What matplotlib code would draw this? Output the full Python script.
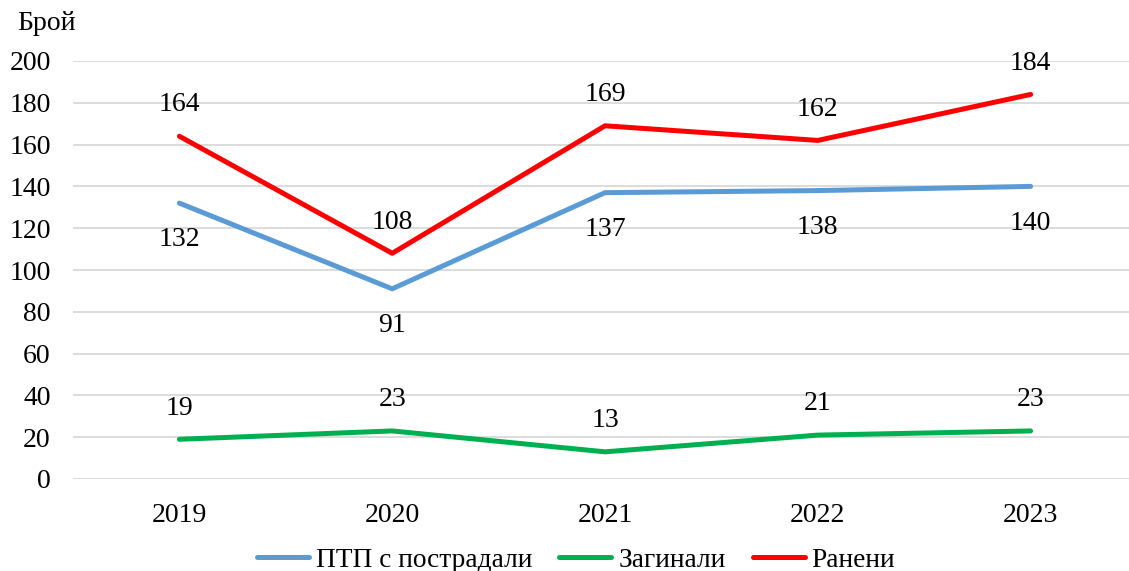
import matplotlib.pyplot as plt
import numpy as np

plt.rcParams['font.family'] = ['Liberation Serif', 'DejaVu Serif']

years = ['2019', '2020', '2021', '2022', '2023']
ptp = [132, 91, 137, 138, 140]
killed = [19, 23, 13, 21, 23]
injured = [164, 108, 169, 162, 184]

series = [
    ('ПТП с пострадали', ptp, '#5b9bd5', -26.5),
    ('Загинали', killed, '#00b050', 22.5),
    ('Ранени', injured, '#ff0000', 22.5),
]

fs = 20

fig = plt.figure(figsize=(11.29, 5.71), dpi=100)
ax = fig.add_axes([73 / 1129, (571 - 479) / 571, (1137 - 73) / 1129, (479 - 61) / 571])

x = np.arange(len(years))
for name, vals, col, off in series:
    ax.plot(x, vals, color=col, lw=3.6, solid_capstyle='round', label=name)
    for xi, v in zip(x, vals):
        ax.annotate(str(v), (xi, v), xytext=(0, off), textcoords='offset points',
                    ha='center', va='center', fontsize=fs)

ax.set_xlim(-0.5, len(years) - 0.5)
ax.set_ylim(0, 200)
ax.set_yticks(range(0, 201, 20))
ax.set_xticks(x)
ax.set_xticklabels(years)
ax.grid(axis='y', color='#d9d9d9', lw=1.3)
ax.set_axisbelow(True)
for s in ax.spines.values():
    s.set_visible(False)
ax.tick_params(length=0, labelsize=fs)
ax.tick_params(axis='x', pad=17)
ax.tick_params(axis='y', pad=16)

fig.text(47 / 1129, 1 - 23 / 571, 'Брой', ha='center', va='center', fontsize=fs)

fig.legend(loc='center', bbox_to_anchor=(576 / 1129, 1 - 560 / 571), ncol=3, frameon=False,
           fontsize=19.7, handlelength=1.9, columnspacing=1.0, handletextpad=0.25)

fig.savefig('out.png', dpi=100)
